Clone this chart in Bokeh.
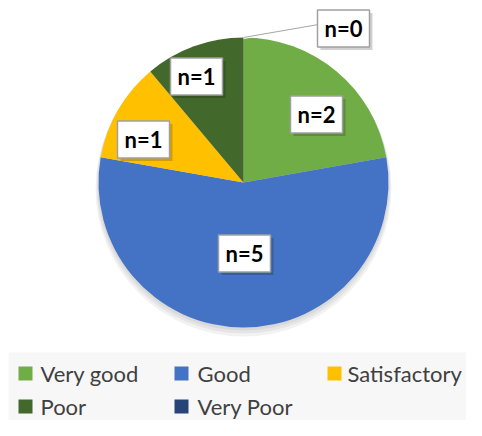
import math
from bokeh.plotting import figure
from bokeh.models import Range1d
from bokeh.core.properties import value
from bokeh.embed import file_html
from bokeh.resources import INLINE

categories = ["Very good", "Good", "Satisfactory", "Poor", "Very Poor"]
counts = [2, 5, 1, 1, 0]
labels = ["n=2", "n=5", "n=1", "n=1", "n=0"]
colors = ["#70AD47", "#4472C4", "#FFC000", "#43682B", "#264478"]

# layout (screen px; data y = 436 - screen y)
H = 436
cx, cy, R = 243, 182, 145
label_pos = [(316, 114), (244, 253), (143, 139), (196, 76), (343, 28)]
legend_pos = [(25, 373, 40), (181, 373, 197), (334, 373, 347), (25, 406, 40), (181, 406, 197)]

p = figure(width=466, height=420, output_backend="svg", toolbar_location=None,
           x_range=Range1d(0, 466), y_range=Range1d(16, 436), min_border=0)
p.axis.visible = False
p.grid.visible = False
p.outline_line_color = None
p.background_fill_color = "white"
p.border_fill_color = "white"

# legend background
p.rect(x=[243], y=[H - 386], width=470, height=68, fill_color="#F7F7F7", line_color=None)

# pie shadow
for i, a in enumerate([0.05, 0.05, 0.05]):
    p.circle(x=[cx], y=[H - cy - 2 - i * 2], radius=R + 1 + i, fill_color="black",
             fill_alpha=a, line_color=None)

total = sum(counts)
ang = math.pi / 2
starts, ends = [], []
for c in counts:
    sweep = 2 * math.pi * c / total
    starts.append(ang - sweep)
    ends.append(ang)
    ang -= sweep

for s, e, col, c in zip(starts, ends, colors, counts):
    if c > 0:
        p.wedge(x=[cx], y=[H - cy], radius=R, start_angle=s, end_angle=e,
                fill_color=col, line_color=None)

# leader line for zero slice
zx = cx + R * math.cos(ends[4])
zy = H - cy + R * math.sin(ends[4])
lx, ly = label_pos[4]
p.line(x=[zx, lx - 25], y=[zy, H - ly + 4], line_color="white", line_width=3)
p.line(x=[zx, lx - 25], y=[zy, H - ly + 4], line_color="#A6A6A6", line_width=1)

# data labels
bw, bh = 52, 37
for (lx, ly), t in zip(label_pos, labels):
    p.rect(x=[lx + 3], y=[H - ly - 3], width=bw, height=bh, fill_color="black",
           fill_alpha=0.18, line_color=None)
    p.rect(x=[lx], y=[H - ly], width=bw, height=bh, fill_color="white",
           line_color="#A0A0A0", line_width=1.5)
    p.text(x=[lx], y=[H - ly], text=[t], text_align="center", text_baseline="middle",
           text_font=value("Lato"), text_font_style="bold", text_font_size="22px",
           text_color="black")

# legend
for (sx, ty, tx), cat, col in zip(legend_pos, categories, colors):
    p.rect(x=[sx], y=[H - ty], width=14, height=14, fill_color=col, line_color=None)
    p.text(x=[tx], y=[H - ty], text=[cat], text_align="left", text_baseline="middle",
           text_font=value("Lato"), text_font_size="22px", text_color="#404040")

open("out.html", "w").write(file_html(p, INLINE))
